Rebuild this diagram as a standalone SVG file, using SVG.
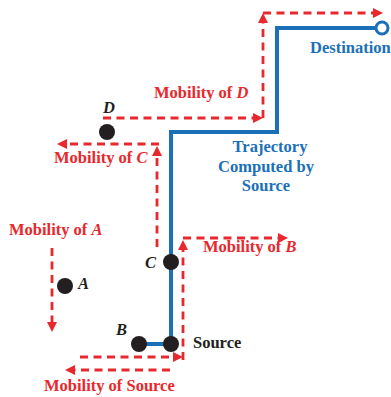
<svg xmlns="http://www.w3.org/2000/svg" width="391" height="397" viewBox="0 0 391 397">
<defs>
<style>
.red{fill:none;stroke:#e8282d;stroke-width:2.8;stroke-dasharray:8 5.5}
.traj{fill:none;stroke:#1b70b7;stroke-width:4}
.ah{fill:#e8282d}
.dot{fill:#231f20}
.t{font-family:"Liberation Serif","Times New Roman",serif;font-weight:bold;font-size:16.5px}
.tr{fill:#e8282d}
.tb{fill:#1b70b7}
.tk{fill:#231f20}
.i{font-style:italic}
</style>
</defs>
<rect width="391" height="397" fill="#fff"/>
<g id="connectors">
<path class="traj" d="M171,344 V132 H277 V28 H376"/>
<path class="traj" d="M139,344 H171"/>
<path class="red" d="M103,118 H254"/>
<polygon class="ah" points="263,118 253,113 253,123"/>
<path class="red" d="M263,118 V23"/>
<polygon class="ah" points="263,13 258,23 268,23"/>
<path class="red" d="M263,13 H373"/>
<polygon class="ah" points="383,13 373,8 373,18"/>
<path class="red" d="M157,247 V156"/>
<polygon class="ah" points="157,146 152,156 162,156"/>
<path class="red" d="M159,144 H67"/>
<polygon class="ah" points="57,144 67,139 67,149"/>
<path class="red" d="M52,248 V322"/>
<polygon class="ah" points="52,332 47,322 57,322"/>
<path class="red" d="M80,357 H173"/>
<polygon class="ah" points="183,357 173,352 173,362"/>
<path class="red" d="M183,360 V250"/>
<polygon class="ah" points="183,240 178,250 188,250"/>
<path class="red" d="M183,238 H278"/>
<polygon class="ah" points="288,238 278,233 278,243"/>
<path class="red" d="M170,370 H75"/>
<polygon class="ah" points="65,370 75,365 75,375"/>
</g>
<g id="destination">
<circle cx="382" cy="28" r="6" fill="#fff" stroke="#1b70b7" stroke-width="3"/>
<text class="t tb" x="310" y="53">Destination</text>
</g>
<g id="trajectory-label">
<text class="t tb" x="270" y="152" text-anchor="middle">Trajectory</text>
<text class="t tb" x="266" y="171.5" text-anchor="middle">Computed by</text>
<text class="t tb" x="266" y="191" text-anchor="middle">Source</text>
</g>
<g id="node-D">
<circle class="dot" cx="107" cy="132" r="8"/>
<text class="t tk i" x="103" y="113">D</text>
<text class="t tr" x="154" y="98">Mobility of <tspan class="i">D</tspan></text>
</g>
<g id="node-C">
<circle class="dot" cx="171" cy="262" r="8"/>
<text class="t tk i" x="145" y="268">C</text>
<text class="t tr" x="54" y="163">Mobility of <tspan class="i">C</tspan></text>
</g>
<g id="node-A">
<circle class="dot" cx="65" cy="286" r="8"/>
<text class="t tk i" x="78" y="289">A</text>
<text class="t tr" x="9" y="235">Mobility of <tspan class="i">A</tspan></text>
</g>
<g id="node-B">
<circle class="dot" cx="139" cy="344" r="8"/>
<text class="t tk i" x="116" y="335">B</text>
<text class="t tr" x="203" y="252">Mobility of <tspan class="i">B</tspan></text>
</g>
<g id="node-Source">
<circle class="dot" cx="171" cy="344" r="8"/>
<text class="t tk" x="193" y="348">Source</text>
<text class="t tr" x="44" y="391">Mobility of Source</text>
</g>
</svg>
